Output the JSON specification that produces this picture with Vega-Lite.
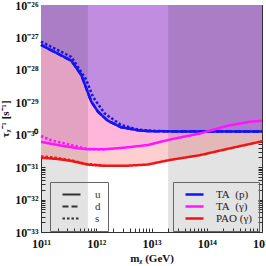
{
  "$schema": "https://vega.github.io/schema/vega-lite/v6.json",
  "width": 221,
  "height": 227,
  "autosize": {"type": "none"},
  "padding": {"left": 41, "top": 5, "right": 4, "bottom": 34},
  "background": "white",
  "config": {
    "view": {"stroke": "#333", "strokeWidth": 1},
    "font": "Liberation Serif",
    "axis": {
      "labelFont": "Liberation Serif", "labelFontWeight": "bold", "labelFontSize": 12, "labelColor": "#111",
      "titleFont": "Liberation Serif", "titleFontWeight": "bold", "titleFontSize": 11, "titleColor": "#111",
      "tickColor": "#333", "tickSize": -4, "domain": false, "grid": false, "labelPadding": 7,
      "labelOverlap": false, "labelFlush": false, "labelBound": false
    }
  },
  "datasets": {
    "curves": [
      {"k": "p", "exp": "TA\u00a0\u00a0(p)", "q": "u", "m": 1e11, "t": 5.888e-28},
      {"k": "p", "exp": "TA\u00a0\u00a0(p)", "q": "u", "m": 3.548e11, "t": 1.905e-28},
      {"k": "p", "exp": "TA\u00a0\u00a0(p)", "q": "u", "m": 5.370e11, "t": 6.918e-29},
      {"k": "p", "exp": "TA\u00a0\u00a0(p)", "q": "u", "m": 6.607e11, "t": 2.692e-29},
      {"k": "p", "exp": "TA\u00a0\u00a0(p)", "q": "u", "m": 8.128e11, "t": 1.047e-29},
      {"k": "p", "exp": "TA\u00a0\u00a0(p)", "q": "u", "m": 1.072e12, "t": 5.129e-30},
      {"k": "p", "exp": "TA\u00a0\u00a0(p)", "q": "u", "m": 1.622e12, "t": 2.692e-30},
      {"k": "p", "exp": "TA\u00a0\u00a0(p)", "q": "u", "m": 2.818e12, "t": 1.698e-30},
      {"k": "p", "exp": "TA\u00a0\u00a0(p)", "q": "u", "m": 5.623e12, "t": 1.380e-30},
      {"k": "p", "exp": "TA\u00a0\u00a0(p)", "q": "u", "m": 8.511e12, "t": 1.288e-30},
      {"k": "p", "exp": "TA\u00a0\u00a0(p)", "q": "u", "m": 3.162e13, "t": 1.259e-30},
      {"k": "p", "exp": "TA\u00a0\u00a0(p)", "q": "u", "m": 1e14, "t": 1.259e-30},
      {"k": "p", "exp": "TA\u00a0\u00a0(p)", "q": "u", "m": 3.162e14, "t": 1.259e-30},
      {"k": "p", "exp": "TA\u00a0\u00a0(p)", "q": "u", "m": 1e15, "t": 1.259e-30},

      {"k": "p", "exp": "TA\u00a0\u00a0(p)", "q": "d", "m": 1e11, "t": 5.888e-28},
      {"k": "p", "exp": "TA\u00a0\u00a0(p)", "q": "d", "m": 3.548e11, "t": 1.905e-28},
      {"k": "p", "exp": "TA\u00a0\u00a0(p)", "q": "d", "m": 5.370e11, "t": 6.918e-29},
      {"k": "p", "exp": "TA\u00a0\u00a0(p)", "q": "d", "m": 6.607e11, "t": 2.692e-29},
      {"k": "p", "exp": "TA\u00a0\u00a0(p)", "q": "d", "m": 8.128e11, "t": 1.047e-29},
      {"k": "p", "exp": "TA\u00a0\u00a0(p)", "q": "d", "m": 1.072e12, "t": 5.129e-30},
      {"k": "p", "exp": "TA\u00a0\u00a0(p)", "q": "d", "m": 1.622e12, "t": 2.692e-30},
      {"k": "p", "exp": "TA\u00a0\u00a0(p)", "q": "d", "m": 2.818e12, "t": 1.698e-30},
      {"k": "p", "exp": "TA\u00a0\u00a0(p)", "q": "d", "m": 5.623e12, "t": 1.380e-30},
      {"k": "p", "exp": "TA\u00a0\u00a0(p)", "q": "d", "m": 1e13, "t": 1.288e-30},
      {"k": "p", "exp": "TA\u00a0\u00a0(p)", "q": "d", "m": 1e15, "t": 1.259e-30},

      {"k": "p", "exp": "TA\u00a0\u00a0(p)", "q": "s", "m": 1e11, "t": 7.413e-28},
      {"k": "p", "exp": "TA\u00a0\u00a0(p)", "q": "s", "m": 3.548e11, "t": 2.512e-28},
      {"k": "p", "exp": "TA\u00a0\u00a0(p)", "q": "s", "m": 6.607e11, "t": 4.898e-29},
      {"k": "p", "exp": "TA\u00a0\u00a0(p)", "q": "s", "m": 8.710e11, "t": 1.479e-29},
      {"k": "p", "exp": "TA\u00a0\u00a0(p)", "q": "s", "m": 1.413e12, "t": 4.571e-30},
      {"k": "p", "exp": "TA\u00a0\u00a0(p)", "q": "s", "m": 2.818e12, "t": 1.995e-30},
      {"k": "p", "exp": "TA\u00a0\u00a0(p)", "q": "s", "m": 5.623e12, "t": 1.445e-30},
      {"k": "p", "exp": "TA\u00a0\u00a0(p)", "q": "s", "m": 1e13, "t": 1.318e-30},
      {"k": "p", "exp": "TA\u00a0\u00a0(p)", "q": "s", "m": 3.162e13, "t": 1.259e-30},
      {"k": "p", "exp": "TA\u00a0\u00a0(p)", "q": "s", "m": 1e15, "t": 1.259e-30},

      {"k": "g", "exp": "TA\u00a0\u00a0(\u03b3)", "q": "u", "m": 1e11, "t": 6.026e-31},
      {"k": "g", "exp": "TA\u00a0\u00a0(\u03b3)", "q": "u", "m": 2.042e11, "t": 4.786e-31},
      {"k": "g", "exp": "TA\u00a0\u00a0(\u03b3)", "q": "u", "m": 4.677e11, "t": 3.802e-31},
      {"k": "g", "exp": "TA\u00a0\u00a0(\u03b3)", "q": "u", "m": 7.079e11, "t": 3.548e-31},
      {"k": "g", "exp": "TA\u00a0\u00a0(\u03b3)", "q": "u", "m": 1.413e12, "t": 3.548e-31},
      {"k": "g", "exp": "TA\u00a0\u00a0(\u03b3)", "q": "u", "m": 3.236e12, "t": 3.981e-31},
      {"k": "g", "exp": "TA\u00a0\u00a0(\u03b3)", "q": "u", "m": 8.511e12, "t": 4.786e-31},
      {"k": "g", "exp": "TA\u00a0\u00a0(\u03b3)", "q": "u", "m": 2.138e13, "t": 7.079e-31},
      {"k": "g", "exp": "TA\u00a0\u00a0(\u03b3)", "q": "u", "m": 7.586e13, "t": 1.096e-30},
      {"k": "g", "exp": "TA\u00a0\u00a0(\u03b3)", "q": "u", "m": 2.291e14, "t": 1.862e-30},
      {"k": "g", "exp": "TA\u00a0\u00a0(\u03b3)", "q": "u", "m": 6.026e14, "t": 2.512e-30},
      {"k": "g", "exp": "TA\u00a0\u00a0(\u03b3)", "q": "u", "m": 1e15, "t": 2.692e-30},

      {"k": "g", "exp": "TA\u00a0\u00a0(\u03b3)", "q": "s", "m": 1e11, "t": 9.120e-31},
      {"k": "g", "exp": "TA\u00a0\u00a0(\u03b3)", "q": "s", "m": 1.514e11, "t": 6.761e-31},
      {"k": "g", "exp": "TA\u00a0\u00a0(\u03b3)", "q": "s", "m": 2.692e11, "t": 5.370e-31},
      {"k": "g", "exp": "TA\u00a0\u00a0(\u03b3)", "q": "s", "m": 4.677e11, "t": 4.266e-31},
      {"k": "g", "exp": "TA\u00a0\u00a0(\u03b3)", "q": "s", "m": 7.079e11, "t": 3.631e-31},
      {"k": "g", "exp": "TA\u00a0\u00a0(\u03b3)", "q": "s", "m": 1.413e12, "t": 3.548e-31},

      {"k": "a", "exp": "PAO (\u03b3)", "q": "u", "m": 1e11, "t": 1.950e-31},
      {"k": "a", "exp": "PAO (\u03b3)", "q": "u", "m": 2.042e11, "t": 1.778e-31},
      {"k": "a", "exp": "PAO (\u03b3)", "q": "u", "m": 3.548e11, "t": 1.549e-31},
      {"k": "a", "exp": "PAO (\u03b3)", "q": "u", "m": 7.079e11, "t": 1.202e-31},
      {"k": "a", "exp": "PAO (\u03b3)", "q": "u", "m": 1.413e12, "t": 1.096e-31},
      {"k": "a", "exp": "PAO (\u03b3)", "q": "u", "m": 3.236e12, "t": 1.096e-31},
      {"k": "a", "exp": "PAO (\u03b3)", "q": "u", "m": 8.511e12, "t": 1.202e-31},
      {"k": "a", "exp": "PAO (\u03b3)", "q": "u", "m": 2.138e13, "t": 1.660e-31},
      {"k": "a", "exp": "PAO (\u03b3)", "q": "u", "m": 7.586e13, "t": 2.344e-31},
      {"k": "a", "exp": "PAO (\u03b3)", "q": "u", "m": 2.630e14, "t": 3.802e-31},
      {"k": "a", "exp": "PAO (\u03b3)", "q": "u", "m": 9.120e14, "t": 6.026e-31},
      {"k": "a", "exp": "PAO (\u03b3)", "q": "u", "m": 1e15, "t": 6.310e-31},

      {"k": "a", "exp": "PAO (\u03b3)", "q": "s", "m": 1e11, "t": 2.138e-31},
      {"k": "a", "exp": "PAO (\u03b3)", "q": "s", "m": 2.042e11, "t": 1.905e-31},
      {"k": "a", "exp": "PAO (\u03b3)", "q": "s", "m": 3.548e11, "t": 1.622e-31},
      {"k": "a", "exp": "PAO (\u03b3)", "q": "s", "m": 6.310e11, "t": 1.259e-31},
      {"k": "a", "exp": "PAO (\u03b3)", "q": "s", "m": 1.413e12, "t": 1.096e-31}
    ],
    "bands": [
      {"lo": 1e11, "hi": 7.08e11},
      {"lo": 2.0e13, "hi": 1e15}
    ]
  },
  "layer": [
    {
      "data": {"name": "curves"},
      "transform": [{"filter": "datum.k == 'a' && datum.q == 'u'"}],
      "mark": {"type": "area", "fill": "#ffcfcf"},
      "encoding": {
        "x": {
          "field": "m", "type": "quantitative",
          "scale": {"type": "log", "domain": [1e11, 1e15], "nice": false},
          "axis": {
            "title": "m\u1d6a (GeV)", "titlePadding": 3, "labelPadding": 10,
            "values": [1e11,2e11,3e11,4e11,5e11,6e11,7e11,8e11,9e11,1e12,2e12,3e12,4e12,5e12,6e12,7e12,8e12,9e12,1e13,2e13,3e13,4e13,5e13,6e13,7e13,8e13,9e13,1e14,2e14,3e14,4e14,5e14,6e14,7e14,8e14,9e14,1e15],
            "labelExpr": "abs(log(datum.value)/LN10 - round(log(datum.value)/LN10)) > 0.01 ? '' : '10' + substring('\u2070\u00b9\u00b2\u00b3\u2074\u2075\u2076\u2077\u2078\u2079', floor(round(log(datum.value)/LN10)/10), floor(round(log(datum.value)/LN10)/10)+1) + substring('\u2070\u00b9\u00b2\u00b3\u2074\u2075\u2076\u2077\u2078\u2079', round(log(datum.value)/LN10) % 10, round(log(datum.value)/LN10) % 10 + 1)"
          }
        },
        "y": {
          "field": "t", "type": "quantitative",
          "scale": {"type": "log", "domain": [1e-33, 1e-26], "nice": false},
          "axis": {
            "title": "\u03c4\u1d6a\u207b\u00b9 [s\u207b\u00b9]", "titlePadding": 4,
            "values": [1e-33,2e-33,3e-33,4e-33,5e-33,6e-33,7e-33,8e-33,9e-33,1e-32,2e-32,3e-32,4e-32,5e-32,6e-32,7e-32,8e-32,9e-32,1e-31,2e-31,3e-31,4e-31,5e-31,6e-31,7e-31,8e-31,9e-31,1e-30,2e-30,3e-30,4e-30,5e-30,6e-30,7e-30,8e-30,9e-30,1e-29,2e-29,3e-29,4e-29,5e-29,6e-29,7e-29,8e-29,9e-29,1e-28,2e-28,3e-28,4e-28,5e-28,6e-28,7e-28,8e-28,9e-28,1e-27,2e-27,3e-27,4e-27,5e-27,6e-27,7e-27,8e-27,9e-27,1e-26],
            "labelExpr": "abs(log(datum.value)/LN10 - round(log(datum.value)/LN10)) > 0.01 ? '' : '10\u207b' + substring('\u2070\u00b9\u00b2\u00b3\u2074\u2075\u2076\u2077\u2078\u2079', floor(round(-log(datum.value)/LN10)/10), floor(round(-log(datum.value)/LN10)/10)+1) + substring('\u2070\u00b9\u00b2\u00b3\u2074\u2075\u2076\u2077\u2078\u2079', round(-log(datum.value)/LN10) % 10, round(-log(datum.value)/LN10) % 10 + 1)"
          }
        },
        "y2": {"datum": 1e-26}
      }
    },
    {
      "data": {"name": "curves"},
      "transform": [{"filter": "datum.k == 'g' && datum.q == 'u'"}],
      "mark": {"type": "area", "fill": "#ffb6d9"},
      "encoding": {
        "x": {"field": "m", "type": "quantitative", "axis": null},
        "y": {"field": "t", "type": "quantitative", "axis": null},
        "y2": {"datum": 1e-26}
      }
    },
    {
      "data": {"name": "curves"},
      "transform": [{"filter": "datum.k == 'p' && datum.q == 'u'"}],
      "mark": {"type": "area", "fill": "#c18de0"},
      "encoding": {
        "x": {"field": "m", "type": "quantitative", "axis": null},
        "y": {"field": "t", "type": "quantitative", "axis": null},
        "y2": {"datum": 1e-26}
      }
    },
    {
      "data": {"name": "bands"},
      "mark": {"type": "rect", "fill": "#000000", "opacity": 0.11},
      "encoding": {
        "x": {
          "field": "lo", "type": "quantitative",
          "axis": {"orient": "top", "labels": false, "title": null,
            "values": [1e11,2e11,3e11,4e11,5e11,6e11,7e11,8e11,9e11,1e12,2e12,3e12,4e12,5e12,6e12,7e12,8e12,9e12,1e13,2e13,3e13,4e13,5e13,6e13,7e13,8e13,9e13,1e14,2e14,3e14,4e14,5e14,6e14,7e14,8e14,9e14,1e15]}
        },
        "x2": {"field": "hi"},
        "y": {
          "datum": 1e-33, "type": "quantitative",
          "axis": {"orient": "right", "labels": false, "title": null,
            "values": [1e-33,2e-33,3e-33,4e-33,5e-33,6e-33,7e-33,8e-33,9e-33,1e-32,2e-32,3e-32,4e-32,5e-32,6e-32,7e-32,8e-32,9e-32,1e-31,2e-31,3e-31,4e-31,5e-31,6e-31,7e-31,8e-31,9e-31,1e-30,2e-30,3e-30,4e-30,5e-30,6e-30,7e-30,8e-30,9e-30,1e-29,2e-29,3e-29,4e-29,5e-29,6e-29,7e-29,8e-29,9e-29,1e-28,2e-28,3e-28,4e-28,5e-28,6e-28,7e-28,8e-28,9e-28,1e-27,2e-27,3e-27,4e-27,5e-27,6e-27,7e-27,8e-27,9e-27,1e-26]}
        },
        "y2": {"datum": 1e-26}
      }
    },
    {
      "data": {"name": "curves"},
      "transform": [{"filter": "datum.q != 'u'"}],
      "mark": {"type": "line", "strokeWidth": 2.5},
      "encoding": {
        "x": {"field": "m", "type": "quantitative", "axis": null},
        "y": {"field": "t", "type": "quantitative", "axis": null},
        "stroke": {
          "field": "exp", "type": "nominal",
          "scale": {"domain": ["TA\u00a0\u00a0(p)", "TA\u00a0\u00a0(\u03b3)", "PAO (\u03b3)"], "range": ["#1414f0", "#ff14ff", "#f01414"]},
          "legend": {"orient": "none", "legendX": 132, "legendY": 177, "title": null, "symbolType": "M0,0L6,0", "symbolSize": 36, "symbolStrokeWidth": 2.5, "labelFont": "Liberation Serif", "labelFontSize": 11, "labelColor": "#222", "labelOffset": 25, "padding": 7, "strokeColor": "#666", "rowPadding": 0, "direction": "vertical"}
        },
        "strokeDash": {
          "field": "q", "type": "nominal",
          "scale": {"domain": ["u", "d", "s"], "range": [[1, 0], [6, 3], [2.5, 2]]},
          "legend": {"orient": "none", "legendX": 9, "legendY": 177, "title": null, "symbolType": "M0,0L6,0", "symbolSize": 36, "symbolStrokeWidth": 2, "symbolStrokeColor": "#333", "labelFont": "Liberation Serif", "labelFontSize": 11, "labelColor": "#333", "labelOffset": 27, "padding": 7, "strokeColor": "#666", "rowPadding": 0, "direction": "vertical"}
        }
      }
    },
    {
      "data": {"name": "curves"},
      "transform": [{"filter": "datum.q == 'u'"}],
      "mark": {"type": "line", "strokeWidth": 2.5},
      "encoding": {
        "x": {"field": "m", "type": "quantitative", "axis": null},
        "y": {"field": "t", "type": "quantitative", "axis": null},
        "stroke": {"field": "exp", "type": "nominal"},
        "strokeDash": {"field": "q", "type": "nominal"}
      }
    }
  ],
  "resolve": {"axis": {"x": "independent", "y": "independent"}}
}
